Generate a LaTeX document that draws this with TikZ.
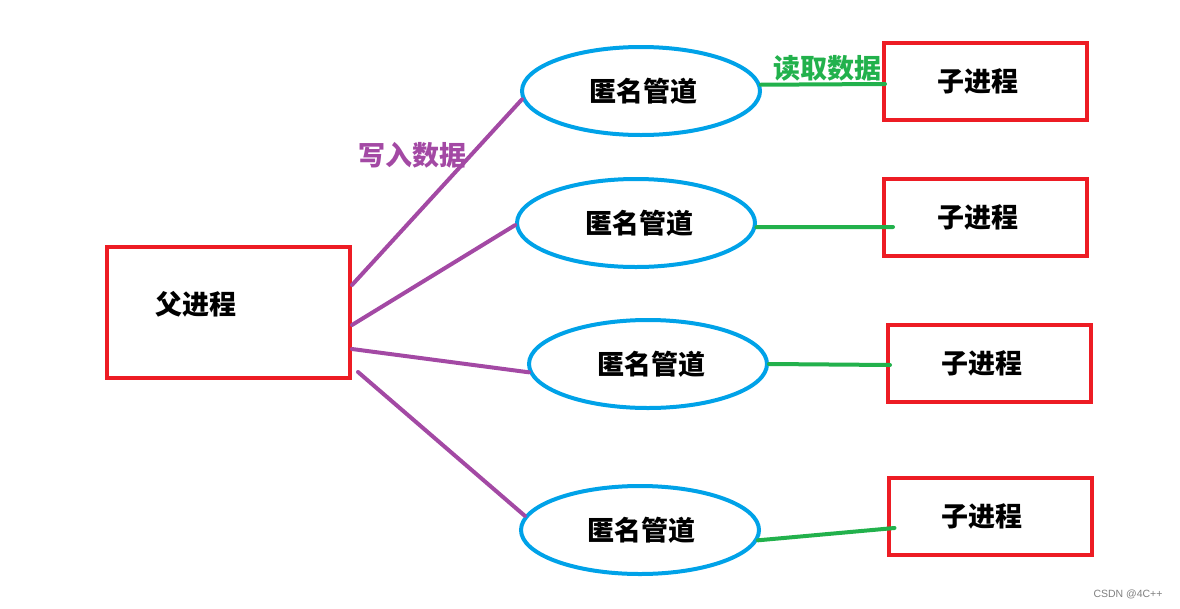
\documentclass[tikz,border=0pt]{standalone}
\usepackage{fontspec}
\setmainfont{Noto Sans CJK SC}
\newfontfamily\markfont{Liberation Sans}
\usetikzlibrary{shapes.geometric}
\definecolor{paintred}{RGB}{237,28,36}
\definecolor{paintblue}{RGB}{0,162,232}
\definecolor{paintpurple}{RGB}{163,73,164}
\definecolor{paintgreen}{RGB}{34,177,76}
\tikzset{
  procbox/.style={draw=paintred,line width=4pt,minimum width=203pt,minimum height=77pt,inner sep=0pt},
  pipe/.style={ellipse,draw=paintblue,line width=4pt,minimum width=238pt,minimum height=88pt,inner sep=0pt},
  writeline/.style={paintpurple,line width=4pt,line cap=round},
  readline/.style={paintgreen,line width=4pt,line cap=round},
  cjktext/.style={font=\fontsize{27}{31}\selectfont\bfseries}
}
\begin{document}
\begin{tikzpicture}[x=1pt,y=-1pt,every node/.style={cjktext}]
  \useasboundingbox (0,0) rectangle (1180,608);
  \node[procbox,minimum width=243pt,minimum height=131pt] (parent) at (228.5,312.5) {};
  \node (parenttext) at (196,304) {父进程};
  \node[pipe] (pipeA) at (641,91) {\hspace*{4pt}匿名管道};
  \node[pipe] (pipeB) at (636,223) {\hspace*{6pt}匿名管道};
  \node[pipe] (pipeC) at (648,364) {\hspace*{6pt}匿名管道};
  \node[pipe] (pipeD) at (640,530) {\hspace*{2pt}匿名管道};
  \node[procbox] (childA) at (985.5,81) {\hspace*{-16pt}子进程};
  \node[procbox] (childB) at (985.5,217) {\hspace*{-16pt}子进程};
  \node[procbox] (childC) at (989.5,363.5) {\hspace*{-16pt}子进程};
  \node[procbox] (childD) at (990,516) {\hspace*{-16pt}子进程};
  \draw[writeline] ([yshift=27.5pt]parent.east) -- (pipeA.184);
  \draw[writeline] ([yshift=-12.5pt]parent.east) -- (pipeB.181);
  \draw[writeline] ([yshift=-36.5pt]parent.east) -- (pipeC.184);
  \draw[writeline] ([xshift=6pt,yshift=-59.5pt]parent.east) -- (pipeD.173);
  \draw[readline] (pipeA.3) -- ([xshift=3pt,yshift=-3pt]childA.west);
  \draw[readline] (pipeB.358) -- ([xshift=11pt,yshift=-10pt]childB.west);
  \draw[readline] (pipeC.0) -- ([xshift=4pt,yshift=-1.5pt]childC.west);
  \draw[readline] (pipeD.355) -- ([xshift=8pt,yshift=-12pt]childD.west);
  \node[text=paintpurple] (writelabel) at (412,155) {写入数据};
  \node[text=paintgreen] (readlabel) at (827,68) {读取数据};
  \node[font=\markfont\fontsize{10.5}{12}\selectfont,text=black!50] (watermark) at (1128,594) {CSDN @4C++};
\end{tikzpicture}
\end{document}
